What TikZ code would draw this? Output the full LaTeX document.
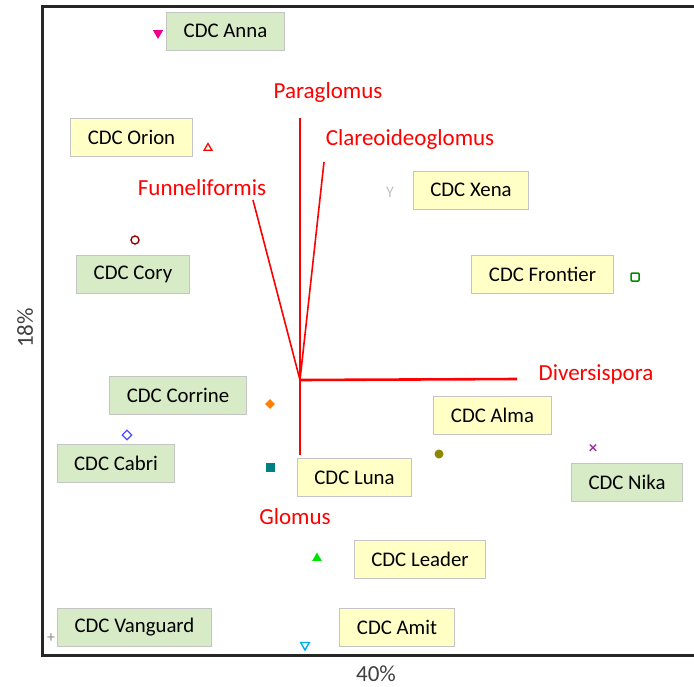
\documentclass[tikz,border=0pt]{standalone}
\usepackage{fontspec}
\setmainfont{Carlito}
\usepackage{tikz}
\usetikzlibrary{shapes.geometric}
\definecolor{grnfill}{HTML}{D7EBC6}
\definecolor{yelfill}{HTML}{FFFFC6}
\definecolor{boxline}{HTML}{C4C4C4}
\definecolor{axtext}{HTML}{404040}
\tikzset{
  box/.style={draw=boxline, line width=1pt, rectangle, minimum height=38pt, inner xsep=17pt, align=center, font=\fontsize{20.8}{24}\selectfont, text=black},
  grn/.style={box, fill=grnfill},
  yel/.style={box, fill=yelfill},
  vec/.style={red, line width=1.6pt},
  genus/.style={text=red, font=\fontsize{23}{27}\selectfont, inner sep=0pt},
  mk/.style={inner sep=0pt, minimum size=8pt},
  tri/.style={mk, regular polygon, regular polygon sides=3, minimum size=10pt},
  dtri/.style={tri, shape border rotate=180}
}
\begin{document}
\begin{tikzpicture}[x=1pt, y=-1pt]
\useasboundingbox (0,0) rectangle (694,686);
% frame
\draw[line width=3pt, black!85] (694,6) -- (42,6) -- (42,655) -- (694,655);
\node[text=axtext, font=\fontsize{23}{27}\selectfont] (xlab) at (376,674) {40\%};
\node[text=axtext, font=\fontsize{23}{27}\selectfont, rotate=90] (ylab) at (25,328) {18\%};

% genus vectors
\coordinate (o) at (300,380);
\coordinate (para) at (300,118);
\coordinate (clar) at (324,162);
\coordinate (funn) at (253,200);
\coordinate (dive) at (517,379);
\coordinate (glom) at (300,455);
\draw[vec] (o) -- (para);
\draw[vec] (o) -- (clar);
\draw[vec] (o) -- (funn);
\draw[vec, line width=2.6pt] (o) -- (dive);
\draw[vec] (o) -- (glom);
\node[genus] (tpara) at (328,92) {Paraglomus};
\node[genus] (tclar) at (410,139) {Clareoideoglomus};
\node[genus] (tfunn) at (202,188) {Funneliformis};
\node[genus] (tdive) at (596,374) {Diversispora};
\node[genus] (tglom) at (295,517) {Glomus};

% cultivars
\node[grn] (anna) at (225.5,31) {CDC Anna};
\node[yel] (orion) at (131.5,137.5) {CDC Orion};
\node[yel] (xena) at (471,190) {CDC Xena};
\node[grn] (cory) at (133,274) {CDC Cory};
\node[yel] (frontier) at (542.5,274) {CDC Frontier};
\node[grn] (corrine) at (178,395.5) {CDC Corrine};
\node[grn] (cabri) at (116,463) {CDC Cabri};
\node[yel] (alma) at (492.5,415) {CDC Alma};
\node[grn] (nika) at (627,482) {CDC Nika};
\node[yel] (luna) at (354.5,477.5) {CDC Luna};
\node[yel] (leader) at (420,559) {CDC Leader};
\node[grn] (vanguard) at (134.5,627.5) {CDC Vanguard};
\node[yel] (amit) at (397,627.5) {CDC Amit};

% markers
\node[dtri, fill=magenta, minimum size=12pt] (m-anna) at (158,33) {};
\node[tri, draw=red, line width=1.3pt, minimum size=9pt] (m-orion) at (208,148) {};
\node[mk, text=black!25, font=\fontsize{16}{16}\selectfont] (m-xena) at (390,192) {Y};
\node[mk, circle, draw=red!60!black, line width=1.4pt, minimum size=8pt] (m-cory) at (135,240) {};
\node[mk, rectangle, rounded corners=1pt, draw=green!55!black, line width=1.5pt, minimum size=8pt] (m-frontier) at (635,277) {};
\node[mk, diamond, fill=orange, minimum size=10pt] (m-corrine) at (270,404) {};
\node[mk, diamond, draw=blue!70, line width=1.3pt, minimum size=10pt] (m-cabri) at (127,435) {};
\node[mk, circle, fill=olive, minimum size=9pt] (m-alma) at (439,454) {};
\node[mk, text=violet!80, font=\fontsize{17}{17}\selectfont\bfseries] (m-nika) at (593,449) {×};
\node[mk, rectangle, fill=teal, minimum size=9pt] (m-luna) at (270,467) {};
\node[tri, fill=green!90!black, minimum size=11pt] (m-leader) at (317,558) {};
\node[mk, text=black!45, font=\fontsize{16}{16}\selectfont] (m-vanguard) at (51,638) {+};
\node[dtri, draw=cyan, line width=1.4pt, minimum size=10pt] (m-amit) at (305,645) {};
\end{tikzpicture}
\end{document}
